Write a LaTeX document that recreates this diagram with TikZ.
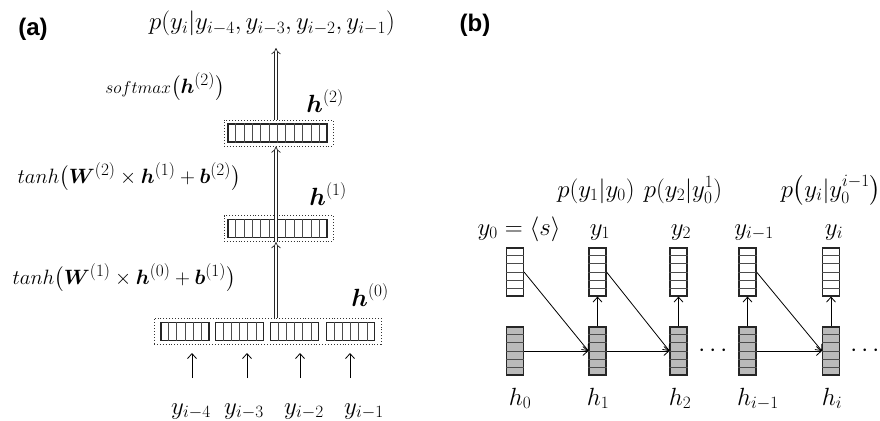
\documentclass[tikz,border=0pt]{standalone}
\usepackage{fontspec}
\usepackage{amsmath}
\usepackage{bm}
\usetikzlibrary{arrows.meta,calc}
\newfontfamily\panelfont{Liberation Sans}
\DeclareMathSizes{22}{22}{16}{12}
\DeclareMathSizes{24}{24}{17}{13}
\DeclareMathSizes{27}{27}{19}{14}
\newcommand\vdivs[2]{\pgfmathtruncatemacro\lastk{#2-1}\foreach \k in {1,...,\lastk}{\draw[divline] ($(#1.north west)!\k/#2!(#1.north east)$) -- ($(#1.south west)!\k/#2!(#1.south east)$);}}
\newcommand\hdivs[2]{\pgfmathtruncatemacro\lastk{#2-1}\foreach \k in {1,...,\lastk}{\draw[divline] ($(#1.north west)!\k/#2!(#1.south west)$) -- ($(#1.north east)!\k/#2!(#1.south east)$);}}
\begin{document}
\begin{tikzpicture}[x=1pt,y=-1pt,line width=0.9pt,
  font=\fontsize{24}{28}\selectfont,
  txt/.style={anchor=base,inner sep=0pt},
  eqn/.style={anchor=base east,inner sep=0pt,font=\fontsize{22}{26}\selectfont},
  dotbox/.style={draw=black!80,dotted,line width=0.9pt,inner sep=0pt,minimum height=26pt},
  barbox/.style={draw=black!85,line width=1.1pt,inner sep=0pt,minimum height=18pt},
  divline/.style={line width=0.7pt,draw=black!70},
  colbar/.style={draw=black!85,line width=1.1pt,inner sep=0pt,minimum width=17pt,minimum height=48pt},
  whitebar/.style={colbar,fill=white},
  graybar/.style={colbar,fill=black!27},
  arr/.style={line width=0.8pt,-{Straight Barb[length=5pt,width=9pt]}},
  hollow/.style={draw=black!85,double=white,double distance=2.6pt,line width=0.7pt,-{Implies}},
  hlab/.style={anchor=base west,inner sep=0pt,font=\fontsize{27}{31}\selectfont},
  panel/.style={inner sep=0pt,font=\panelfont\bfseries\fontsize{24}{28}\selectfont}]
\useasboundingbox (0,0) rectangle (880,420);

% ---------- panel (a) ----------
\node[panel] (la) at (33,29) {(a)};
\node[txt] (ptop) at (272,30) {$p(y_i|y_{i-4},y_{i-3},y_{i-2},y_{i-1})$};

\node[dotbox,minimum width=109pt] (h2box) at (278.5,133) {};
\node[barbox,minimum width=99pt] (h2bar) at (277.5,133) {};
\vdivs{h2bar}{12}
\node[dotbox,minimum width=109pt] (h1box) at (278.5,228.5) {};
\node[barbox,minimum width=99pt] (h1bar) at (277.5,228.5) {};
\vdivs{h1bar}{12}

\node[dotbox,minimum width=227pt] (h0box) at (267.5,331) {};
\node[barbox,minimum width=48pt] (s1) at (185,331.5) {};
\node[barbox,minimum width=48pt] (s2) at (239.5,331.5) {};
\node[barbox,minimum width=48pt] (s3) at (294.5,331.5) {};
\node[barbox,minimum width=48pt] (s4) at (350.5,331.5) {};
\vdivs{s1}{6}\vdivs{s2}{6}\vdivs{s3}{6}\vdivs{s4}{6}

\coordinate (topend) at (276,48);
\draw[hollow] (h2box.north -| topend) -- (topend);
\draw[hollow] (h1box.south -| topend) -- (h2box.south -| topend);
\draw[hollow] (h0box.north -| topend) -- (h1box.south -| topend);

\node[eqn] (lsm) at (225,93) {{\fontsize{16}{18}\selectfont$softmax$}$\bigl(\bm{h}^{(2)}\bigr)$};
\node[hlab] (lh2) at (306,112) {$\bm{h}^{(2)}$};
\node[eqn] (lt2) at (241,183) {$tanh\bigl(\bm{W}^{(2)}\times\bm{h}^{(1)}+\bm{b}^{(2)}\bigr)$};
\node[hlab] (lh1) at (309,205) {$\bm{h}^{(1)}$};
\node[eqn] (lt1) at (236,284) {$tanh\bigl(\bm{W}^{(1)}\times\bm{h}^{(0)}+\bm{b}^{(1)}\bigr)$};
\node[hlab] (lh0) at (351,306) {$\bm{h}^{(0)}$};

\node[txt] (y4) at (191,414) {$y_{i-4}$};
\node[txt] (y3) at (244,414) {$y_{i-3}$};
\node[txt] (y2) at (304,414) {$y_{i-2}$};
\node[txt] (y1) at (364,414) {$y_{i-1}$};
\foreach \c/\x in {a/192,b/247,c/300,d/350}{
  \coordinate (in\c) at (\x,378);
  \draw[arr] (in\c) -- ++(0,-25);
}

% ---------- panel (b) ----------
\node[panel] (lb) at (475,25) {(b)};

\foreach \n/\x in {0/515,1/597.5,2/678.5,3/747.5,4/831}{
  \node[whitebar] (w\n) at (\x,272) {};
  \node[graybar] (g\n) at (\x,351) {};
  \hdivs{w\n}{6}
  \hdivs{g\n}{6}
}

\node[txt] (ly0) at (519,235) {$y_0=\langle s\rangle$};
\node[txt] (ly1) at (600,235) {$y_1$};
\node[txt] (ly2) at (681,235) {$y_2$};
\node[txt] (ly3) at (754,235) {$y_{i-1}$};
\node[txt] (ly4) at (834,235) {$y_i$};

\node[txt] (p1) at (596,197) {$p(y_1|y_0)$};
\node[txt] (p2) at (683,197) {$p(y_2|y_0^1)$};
\node[txt] (p3) at (831,197) {$p\bigl(y_i|y_0^{i-1}\bigr)$};

\node[txt] (lhh0) at (520,405) {$h_0$};
\node[txt] (lhh1) at (598,405) {$h_1$};
\node[txt] (lhh2) at (680,405) {$h_2$};
\node[txt] (lhh3) at (758,405) {$h_{i-1}$};
\node[txt] (lhh4) at (832,405) {$h_i$};

\draw[arr] (g0.east) -- (g1.west);
\draw[arr] (g1.east) -- (g2.west);
\draw[arr] (g3.east) -- (g4.west);
\draw[arr] (w0.east) -- (g1.west);
\draw[arr] (w1.east) -- (g2.west);
\draw[arr] (w3.east) -- (g4.west);
\foreach \n in {1,2,3,4}{\draw[arr] (g\n.north) -- (w\n.south);}

\node (dots1) at (715,351) {$\cdots$};
\node (dots2) at (867,351) {$\cdots$};
\end{tikzpicture}
\end{document}
